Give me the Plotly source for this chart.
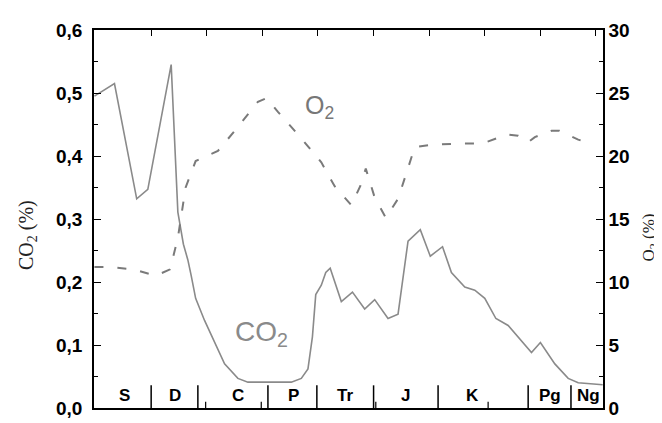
import plotly.graph_objects as go

# ---- data (age in Ma) ----
co2_age = [451, 433, 413, 403, 382, 376, 371, 367, 364, 360, 352, 343, 334, 322, 313,
           274, 265, 259, 255, 252, 247, 243, 239, 229, 219, 208, 199, 187, 178, 169,
           158, 149, 138, 130, 118, 109, 100, 90, 79, 58, 50, 37, 25, 16, 0, -6]
co2_val = [0.495, 0.515, 0.332, 0.347, 0.545, 0.311, 0.260, 0.235, 0.210, 0.174, 0.139,
           0.104, 0.070, 0.047, 0.041, 0.041, 0.047, 0.062, 0.113, 0.180, 0.195, 0.215,
           0.222, 0.169, 0.184, 0.157, 0.172, 0.142, 0.149, 0.265, 0.283, 0.241, 0.256,
           0.215, 0.192, 0.187, 0.174, 0.142, 0.131, 0.088, 0.104, 0.070, 0.047, 0.040,
           0.037, 0.037]

o2_age = [451, 439, 416, 396, 383, 376, 369, 360, 340, 322, 304, 296, 286, 265, 247,
          235, 220, 212, 207, 199, 189, 178, 171, 163, 147, 120, 102, 80, 70, 61, 55,
          40, 33, 16, 5]
o2_val = [11.2, 11.2, 11.0, 10.5, 11.0, 13.5, 17.5, 19.6, 20.4, 22.3, 24.3, 24.6, 23.5,
          21.4, 19.5, 17.6, 16.1, 17.6, 19.0, 16.7, 15.1, 16.6, 18.5, 20.7, 20.9, 21.0,
          21.0, 21.7, 21.6, 21.1, 21.5, 22.0, 22.0, 21.3, 21.0]

period_labels = ["S", "D", "C", "P", "Tr", "J", "K", "Pg", "Ng"]
period_label_age = [424, 379, 322, 272, 226, 171, 111, 41, 7]
period_bounds = [400, 358, 295, 251, 200, 142, 61, 22.5]
bottom_minor_ticks = [351, 301, 198, 97]

top_ticks = [0, 50, 100, 150, 200, 250, 300, 350, 400]
co2_ticks = [0.0, 0.1, 0.2, 0.3, 0.4, 0.5, 0.6]
o2_ticks = [0, 5, 10, 15, 20, 25, 30]

X_RANGE = [451.4, -6.3]

fig = go.Figure()

fig.add_trace(go.Scatter(x=co2_age, y=co2_val, mode="lines",
                         line=dict(color="#8a8a8a", width=1.6),
                         xaxis="x", yaxis="y", showlegend=False))
fig.add_trace(go.Scatter(x=o2_age, y=o2_val, mode="lines",
                         line=dict(color="#7a7a7a", width=2, dash="9px,14px"),
                         xaxis="x", yaxis="y2", showlegend=False))

# period dividers
for b in period_bounds:
    fig.add_shape(type="line", xref="x", yref="y", x0=b, x1=b, y0=0, y1=0.036,
                  line=dict(color="black", width=1.5))
for b in bottom_minor_ticks:
    fig.add_shape(type="line", xref="x", yref="y", x0=b, x1=b, y0=0, y1=0.01,
                  line=dict(color="black", width=1.2))

# period labels
for lab, a in zip(period_labels, period_label_age):
    fig.add_annotation(x=a, y=0.02, xref="x", yref="y", text=lab, showarrow=False,
                       xanchor="center", yanchor="middle",
                       font=dict(family="Liberation Sans", size=17, color="black",
                                 weight="bold"))

# curve labels
fig.add_annotation(x=(588 - 312) / 1.112, y=(411 - 97) / 656.7, xref="x", yref="y",
                   text="O<sub>2</sub>", showarrow=False,
                   xanchor="center", yanchor="middle",
                   font=dict(family="Liberation Sans", size=25, color="#777777"))
fig.add_annotation(x=(588 - 254) / 1.112, y=(411 - 333) / 656.7, xref="x", yref="y",
                   text="CO<sub>2</sub>", showarrow=False,
                   xanchor="center", yanchor="middle",
                   font=dict(family="Liberation Sans", size=28, color="#8a8a8a"))

# axis titles
fig.add_annotation(x=-0.132, y=0.457, xref="paper", yref="paper", textangle=-90,
                   text="CO<sub>2</sub> (%)", showarrow=False,
                   xanchor="center", yanchor="middle",
                   font=dict(family="Liberation Serif", size=20, color="#222222"))
fig.add_annotation(x=1.093, y=0.452, xref="paper", yref="paper", textangle=-90,
                   text="O<sub>2</sub> (%)", showarrow=False,
                   xanchor="center", yanchor="middle",
                   font=dict(family="Liberation Serif", size=17, color="#222222"))

tickfont = dict(family="Liberation Sans", size=19, color="black", weight="bold")

fig.update_layout(
    width=662, height=423,
    margin=dict(l=86, r=67, t=17, b=12),
    paper_bgcolor="white", plot_bgcolor="white",
    separators=",.",
    xaxis=dict(range=X_RANGE, showgrid=False, zeroline=False, showticklabels=False,
               ticks="", showline=True, linecolor="black", linewidth=1.5),
    xaxis2=dict(range=X_RANGE, overlaying="x", side="top", showgrid=False,
                zeroline=False, showticklabels=False, tickmode="array",
                tickvals=top_ticks, ticks="inside", ticklen=6, tickcolor="black",
                showline=True, linecolor="black", linewidth=1.5),
    yaxis=dict(range=[0, 0.6], tickmode="array", tickvals=co2_ticks, tickformat=".1f",
               ticks="inside", ticklen=7, tickwidth=1.2, tickcolor="black",
               minor=dict(dtick=0.05, ticks="inside", ticklen=4, tickcolor="black"),
               showgrid=False, zeroline=False, showline=True, linecolor="black",
               linewidth=1.5, tickfont=tickfont, ticklabelstandoff=6),
    yaxis2=dict(range=[0, 30], overlaying="y", side="right", tickmode="array",
                tickvals=o2_ticks, ticks="inside", ticklen=7, tickwidth=1.2,
                tickcolor="black",
                minor=dict(dtick=2.5, ticks="inside", ticklen=4, tickcolor="black"),
                showgrid=False, zeroline=False, showline=True, linecolor="black",
                linewidth=1.5, tickfont=tickfont),
)

# invisible trace to activate the top axis
fig.add_trace(go.Scatter(x=[X_RANGE[0]], y=[0], xaxis="x2", yaxis="y", mode="markers",
                         marker=dict(opacity=0), showlegend=False, hoverinfo="skip"))

fig.write_html("out.html")
